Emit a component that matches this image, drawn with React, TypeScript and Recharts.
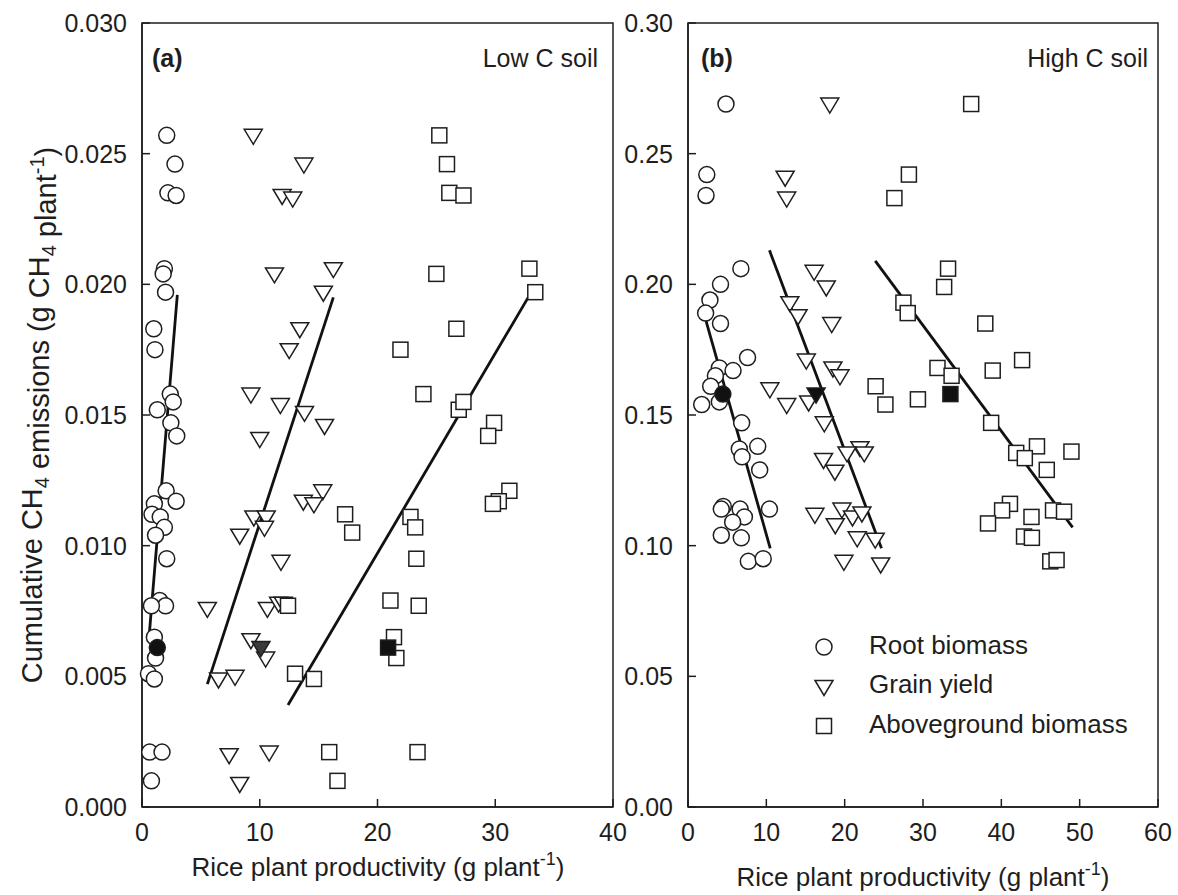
import React from 'react';
import { ScatterChart, Scatter, XAxis, YAxis, ReferenceArea, ReferenceLine } from 'recharts';

type Pt = [number, number];

// (a) Low C soil
const rootA: Pt[] = [
  [2.1, 0.0257], [2.8, 0.0246], [2.2, 0.0235], [2.9, 0.0234], [1.9, 0.0206], [1.8, 0.0204], [2.0, 0.0197],
  [1.0, 0.0183], [1.1, 0.0175], [2.4, 0.0158], [2.65, 0.0155], [1.3, 0.0152], [2.45, 0.0147], [2.95, 0.0142],
  [2.05, 0.0121], [1.05, 0.0116], [2.9, 0.0117], [0.85, 0.0112], [1.55, 0.0111], [1.9, 0.0107], [1.15, 0.0104],
  [2.1, 0.0095], [1.5, 0.0079], [2.0, 0.0077], [0.8, 0.0077], [1.05, 0.0065], [1.15, 0.0057], [0.55, 0.0051],
  [1.05, 0.0049], [0.65, 0.0021], [1.7, 0.0021], [0.8, 0.001],
];
const rootAFilled: Pt[] = [[1.3, 0.0061]];
const grainA: Pt[] = [
  [9.45, 0.0257], [13.75, 0.0246], [11.9, 0.0234], [12.8, 0.0233], [11.25, 0.0204], [16.25, 0.0206], [15.4, 0.0197],
  [13.4, 0.0183], [12.5, 0.0175], [9.25, 0.0158], [11.75, 0.0154], [13.8, 0.0151], [15.5, 0.0146], [10.0, 0.0141],
  [15.35, 0.0121], [13.7, 0.0117], [14.6, 0.0116], [9.5, 0.0111], [10.55, 0.0111], [10.4, 0.0107], [8.3, 0.0104],
  [11.8, 0.0094], [5.55, 0.0076], [10.65, 0.0076], [11.6, 0.0078], [12.0, 0.0078], [9.25, 0.0064], [10.5, 0.0057],
  [6.5, 0.0049], [7.9, 0.005], [7.4, 0.002], [10.8, 0.0021], [8.3, 0.0009],
];
const grainAFilled: Pt[] = [[10.1, 0.0061]];
const aboveA: Pt[] = [
  [25.25, 0.0257], [25.9, 0.0246], [26.1, 0.0235], [27.3, 0.0234], [25.0, 0.0204], [32.9, 0.0206], [33.4, 0.0197],
  [26.7, 0.0183], [21.95, 0.0175], [23.9, 0.0158], [26.9, 0.0152], [27.3, 0.0155], [29.9, 0.0147], [29.4, 0.0142],
  [31.2, 0.0121], [30.3, 0.0117], [29.8, 0.0116], [17.25, 0.0112], [17.85, 0.0105], [22.8, 0.0111], [23.2, 0.0107],
  [23.3, 0.0095], [12.4, 0.0077], [21.1, 0.0079], [23.5, 0.0077], [21.4, 0.0065], [21.6, 0.0057], [13.0, 0.0051],
  [14.6, 0.0049], [15.9, 0.0021], [23.4, 0.0021], [16.6, 0.001],
];
const aboveAFilled: Pt[] = [[20.9, 0.0061]];
const rootFitA: Pt[] = [[0.6, 0.0065], [3.0, 0.0196]];
const grainFitA: Pt[] = [[5.55, 0.0047], [16.25, 0.0195]];
const aboveFitA: Pt[] = [[12.4, 0.0039], [32.8, 0.0195]];

// (b) High C soil
const rootB: Pt[] = [
  [4.85, 0.269], [2.4, 0.242], [2.3, 0.234], [6.75, 0.206], [4.15, 0.2], [2.8, 0.194], [2.25, 0.189], [4.15, 0.185],
  [7.6, 0.172], [4.0, 0.168], [5.75, 0.167], [3.5, 0.165], [2.9, 0.161], [4.0, 0.155], [1.75, 0.154], [6.85, 0.147],
  [6.55, 0.137], [8.9, 0.138], [6.9, 0.134], [9.15, 0.129], [4.5, 0.115], [4.25, 0.114], [6.65, 0.114], [7.2, 0.111],
  [5.7, 0.109], [10.4, 0.114], [4.25, 0.104], [6.8, 0.103], [7.7, 0.094], [9.6, 0.095],
];
const rootBFilled: Pt[] = [[4.45, 0.158]];
const grainB: Pt[] = [
  [18.1, 0.269], [12.4, 0.241], [12.6, 0.233], [16.1, 0.205], [17.65, 0.199], [18.35, 0.185], [13.0, 0.193],
  [14.05, 0.188], [15.1, 0.171], [18.5, 0.168], [19.4, 0.165], [10.45, 0.16], [12.6, 0.154], [15.4, 0.155],
  [17.4, 0.147], [21.95, 0.1375], [22.5, 0.1355], [20.3, 0.1355], [17.3, 0.133], [18.75, 0.1285], [16.2, 0.112],
  [19.65, 0.114], [18.8, 0.108], [21.0, 0.111], [22.2, 0.1125], [21.6, 0.103], [23.9, 0.1025], [19.9, 0.094],
  [24.6, 0.093],
];
const grainBFilled: Pt[] = [[16.35, 0.158]];
const aboveB: Pt[] = [
  [36.15, 0.269], [28.2, 0.242], [26.35, 0.233], [33.2, 0.206], [32.7, 0.199], [27.5, 0.193], [28.05, 0.189],
  [37.95, 0.185], [42.65, 0.171], [31.85, 0.168], [38.9, 0.167], [33.65, 0.165], [23.95, 0.161], [25.2, 0.154],
  [29.35, 0.156], [38.7, 0.147], [44.55, 0.138], [41.9, 0.1355], [43.0, 0.1335], [48.95, 0.136], [45.8, 0.129],
  [41.1, 0.116], [40.1, 0.1135], [43.85, 0.111], [46.6, 0.1135], [48.0, 0.113], [38.3, 0.1085], [42.9, 0.1035],
  [43.9, 0.103], [46.25, 0.094], [47.05, 0.0945],
];
const aboveBFilled: Pt[] = [[33.5, 0.158]];
const rootFitB: Pt[] = [[2.3, 0.186], [10.5, 0.099]];
const grainFitB: Pt[] = [[10.4, 0.213], [24.7, 0.099]];
const aboveFitB: Pt[] = [[23.9, 0.209], [49.1, 0.107]];

const xTicksA = [0, 10, 20, 30, 40];
const yTicksA = [0, 0.005, 0.01, 0.015, 0.02, 0.025, 0.03];
const xTicksB = [0, 10, 20, 30, 40, 50, 60];
const yTicksB = [0, 0.05, 0.1, 0.15, 0.2, 0.25, 0.3];

const INK = '#1e1e1e';
const FONT = 'Arial, "Liberation Sans", sans-serif';

const toObj = (pts: Pt[]) => pts.map(([x, y]) => ({ x, y }));

type Kind = 'circle' | 'tri' | 'square';

const Mark = ({ kind, cx, cy, fill }: { kind: Kind; cx: number; cy: number; fill: string }) => {
  if (kind === 'circle') return <circle cx={cx} cy={cy} r={8} fill={fill} stroke={INK} strokeWidth={1.5} />;
  if (kind === 'square')
    return <rect x={cx - 7.5} y={cy - 7.5} width={15} height={15} fill={fill} stroke={INK} strokeWidth={1.5} />;
  return (
    <polygon
      points={`${cx - 9},${cy - 6} ${cx + 9},${cy - 6} ${cx},${cy + 9}`}
      fill={fill}
      stroke={INK}
      strokeWidth={1.5}
    />
  );
};

const shapeOf = (kind: Kind, fill: string) => (p: any) => <Mark kind={kind} cx={p.cx} cy={p.cy} fill={fill} />;

interface PanelProps {
  left: number;
  width: number;
  yWidth: number;
  right: number;
  xMax: number;
  yMax: number;
  xTicks: number[];
  yTicks: number[];
  yDigits: number;
  open: [Pt[], Pt[], Pt[]];
  filled: [Pt[], Pt[], Pt[]];
  fits: Pt[][];
  triFill: string;
}

const Panel = (p: PanelProps) => {
  const kinds: Kind[] = ['circle', 'tri', 'square'];
  return (
    <div style={{ position: 'absolute', left: p.left, top: 0 }}>
      <ScatterChart width={p.width} height={895} margin={{ top: 23, right: p.right, bottom: 0, left: 0 }}>
        <XAxis
          type="number"
          dataKey="x"
          domain={[0, p.xMax]}
          ticks={p.xTicks}
          interval={0}
          height={88}
          tickSize={-8}
          tickMargin={24}
          stroke={INK}
          strokeWidth={1.5}
          tick={{ fill: INK, fontSize: 25, fontFamily: FONT }}
        />
        <YAxis
          type="number"
          dataKey="y"
          domain={[0, p.yMax]}
          ticks={p.yTicks}
          interval={0}
          width={p.yWidth}
          tickSize={-8}
          tickMargin={23}
          stroke={INK}
          strokeWidth={1.5}
          tickFormatter={(v: number) => v.toFixed(p.yDigits)}
          tick={{ fill: INK, fontSize: 25, fontFamily: FONT }}
        />
        <ReferenceArea x1={0} x2={p.xMax} y1={0} y2={p.yMax} fill="none" stroke={INK} strokeWidth={1.5} />
        {p.fits.map((f, i) => (
          <ReferenceLine key={'f' + i} segment={toObj(f)} stroke="#111" strokeWidth={2.8} />
        ))}
        {p.open.map((d, i) => (
          <Scatter key={'o' + i} data={toObj(d)} shape={shapeOf(kinds[i], '#fff')} isAnimationActive={false} />
        ))}
        {p.filled.map((d, i) => (
          <Scatter
            key={'c' + i}
            data={toObj(d)}
            shape={shapeOf(kinds[i], i === 1 ? p.triFill : '#111')}
            isAnimationActive={false}
          />
        ))}
      </ScatterChart>
    </div>
  );
};

const Sub = ({ t }: { t: string }) => (
  <>
    <tspan dy={7} fontSize={20}>{t}</tspan>
    <tspan dy={-7}></tspan>
  </>
);

const XTitle = ({ cx, y }: { cx: number; y: number }) => (
  <text x={cx} y={y} textAnchor="middle" fontSize={26} fill={INK} fontFamily={FONT}>
    Rice plant productivity (g plant
    <tspan dy={-11} fontSize={18}>-1</tspan>
    <tspan dy={11}>)</tspan>
  </text>
);

const legendItems: [Kind, string][] = [
  ['circle', 'Root biomass'],
  ['tri', 'Grain yield'],
  ['square', 'Aboveground biomass'],
];

export default function App() {
  const ycx = 42;
  const ycy = 415;
  return (
    <div style={{ position: 'absolute', left: 0, top: 0, width: 1178, height: 895, background: '#fff', fontFamily: FONT }}>
      <Panel
        left={0}
        width={640}
        yWidth={142}
        right={27}
        xMax={40}
        yMax={0.03}
        xTicks={xTicksA}
        yTicks={yTicksA}
        yDigits={3}
        open={[rootA, grainA, aboveA]}
        filled={[rootAFilled, grainAFilled, aboveAFilled]}
        fits={[rootFitA, grainFitA, aboveFitA]}
        triFill="#3a3a3a"
      />
      <Panel
        left={600}
        width={578}
        yWidth={88}
        right={20}
        xMax={60}
        yMax={0.3}
        xTicks={xTicksB}
        yTicks={yTicksB}
        yDigits={2}
        open={[rootB, grainB, aboveB]}
        filled={[rootBFilled, grainBFilled, aboveBFilled]}
        fits={[rootFitB, grainFitB, aboveFitB]}
        triFill="#111"
      />
      <svg width={1178} height={895} style={{ position: 'absolute', left: 0, top: 0, pointerEvents: 'none' }}>
        <text
          x={ycx}
          y={ycy}
          transform={`rotate(-90 ${ycx} ${ycy})`}
          textAnchor="middle"
          fontSize={29}
          fill={INK}
          fontFamily={FONT}
        >
          Cumulative CH
          <Sub t="4" />
          {' emissions (g CH'}
          <Sub t="4" />
          {' plant'}
          <tspan dy={-12} fontSize={20}>-1</tspan>
          <tspan dy={12}>)</tspan>
        </text>
        <XTitle cx={378} y={876} />
        <XTitle cx={923} y={886} />
        <text x={152} y={60} fontSize={25} fontWeight="bold" fill={INK} fontFamily={FONT} dominantBaseline="middle">
          (a)
        </text>
        <text x={598} y={60} fontSize={25} textAnchor="end" fill={INK} fontFamily={FONT} dominantBaseline="middle">
          Low C soil
        </text>
        <text x={701} y={60} fontSize={25} fontWeight="bold" fill={INK} fontFamily={FONT} dominantBaseline="middle">
          (b)
        </text>
        <text x={1148} y={60} fontSize={25} textAnchor="end" fill={INK} fontFamily={FONT} dominantBaseline="middle">
          High C soil
        </text>
        {legendItems.map(([k, label], i) => (
          <g key={label}>
            <Mark kind={k} cx={824} cy={647 + i * 39.5} fill="#fff" />
            <text x={869} y={647 + i * 39.5} fontSize={26} fill={INK} fontFamily={FONT} dominantBaseline="middle">
              {label}
            </text>
          </g>
        ))}
      </svg>
    </div>
  );
}
